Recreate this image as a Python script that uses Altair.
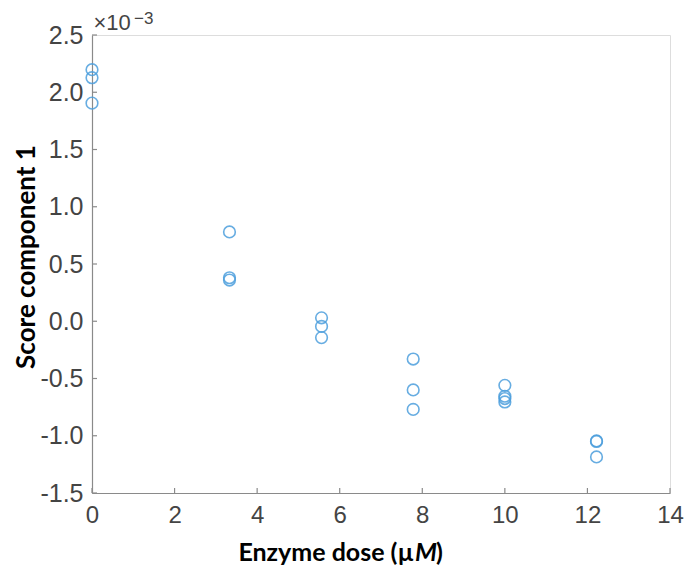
import altair as alt
import pandas as pd

# ---- data (scores in units of 1e-3) ----
dose = [0, 0, 0,
        3.33, 3.33, 3.33,
        5.56, 5.56, 5.56,
        7.78, 7.78, 7.78,
        10, 10, 10, 10,
        12.22, 12.22, 12.22]
score = [2.197, 2.127, 1.905,
         0.78, 0.38, 0.36,
         0.03, -0.045, -0.143,
         -0.33, -0.60, -0.77,
         -0.56, -0.655, -0.675, -0.705,
         -1.045, -1.05, -1.185]
x_ticks = [0, 2, 4, 6, 8, 10, 12, 14]
y_ticks = [-1.5, -1.0, -0.5, 0.0, 0.5, 1.0, 1.5, 2.0, 2.5]
x_title_main = ["Enzyme dose (\u00b5"]
x_title_ital = ["M"]
x_title_end = [")"]
y_title = ["Score component 1"]
exp_base = ["\u00d710"]
exp_pow = ["\u22123"]

W, H = 578, 458
df = pd.DataFrame({"dose": dose, "score": score})

xs = alt.Scale(domain=[0, 14], nice=False, zero=False)
ys = alt.Scale(domain=[-1.5, 2.5], nice=False, zero=False)

label_expr = "replace(format(datum.value, '.1f'), '\u2212', '-')"

points = alt.Chart(df).mark_point(
    shape="circle", filled=False, size=135, strokeWidth=1.6,
    color="#4d9fdd", opacity=0.85
).encode(
    x=alt.X("dose:Q", scale=xs,
            axis=alt.Axis(values=x_ticks, ticks=False, grid=False, title=None,
                          labelFont="Liberation Sans", labelFontSize=24,
                          labelColor="#444444", labelPadding=10,
                          labelFlush=False,
                          domainColor="#8a8a8a", domainWidth=1.2)),
    y=alt.Y("score:Q", scale=ys,
            axis=alt.Axis(values=y_ticks, ticks=False, grid=False, title=None,
                          labelExpr=label_expr,
                          labelFont="Liberation Sans", labelFontSize=25,
                          labelColor="#444444", labelPadding=9,
                          labelFlush=False,
                          domainColor="#8a8a8a", domainWidth=1.2)),
)

ytick_rules = alt.Chart(pd.DataFrame({"v": y_ticks})).mark_rule(
    color="#8a8a8a", strokeWidth=1.2
).encode(y=alt.Y("v:Q", scale=ys), x=alt.value(0), x2=alt.value(5))

xtick_rules = alt.Chart(pd.DataFrame({"v": x_ticks})).mark_rule(
    color="#8a8a8a", strokeWidth=1.2
).encode(x=alt.X("v:Q", scale=xs), y=alt.value(H), y2=alt.value(H - 5))

def txt(vals, **kw):
    enc = {k: v for k, v in kw.items() if k in ("x", "y")}
    mk = {k: v for k, v in kw.items() if k not in ("x", "y")}
    return alt.Chart(pd.DataFrame({"t": vals})).mark_text(**mk).encode(
        text="t:N", **enc)

title_font = "Lato"
TS = 25
xt1 = txt(x_title_main, x=alt.value(322), y=alt.value(526), align="right",
          baseline="alphabetic", font=title_font, fontWeight="bold",
          fontSize=TS, color="#000000")
xt2 = txt(x_title_ital, x=alt.value(323), y=alt.value(526), align="left",
          baseline="alphabetic", font=title_font, fontWeight="bold",
          fontStyle="italic", fontSize=TS, color="#000000")
xt3 = txt(x_title_end, x=alt.value(344), y=alt.value(526), align="left",
          baseline="alphabetic", font=title_font, fontWeight="bold",
          fontSize=TS, color="#000000")
yt = txt(y_title, x=alt.value(-57), y=alt.value(222), align="center",
         baseline="alphabetic", angle=270, font=title_font, fontWeight="bold",
         fontSize=26, color="#000000")
e1 = txt(exp_base, x=alt.value(1.5), y=alt.value(-5), align="left",
         baseline="alphabetic", font="Liberation Sans", fontSize=22,
         color="#444444")
e2 = txt(exp_pow, x=alt.value(42), y=alt.value(-11), align="left",
         baseline="alphabetic", font="Liberation Sans", fontSize=17,
         color="#444444")

chart = alt.layer(
    ytick_rules, xtick_rules, points, xt1, xt2, xt3, yt, e1, e2
).properties(
    width=W, height=H,
    autosize=alt.AutoSizeParams(type="none"),
    padding={"left": 84, "top": 27, "right": 14, "bottom": 76},
).configure_view(stroke=None).configure(background="white")

chart.save("out.html", embed_options={"renderer": "svg", "actions": False})
